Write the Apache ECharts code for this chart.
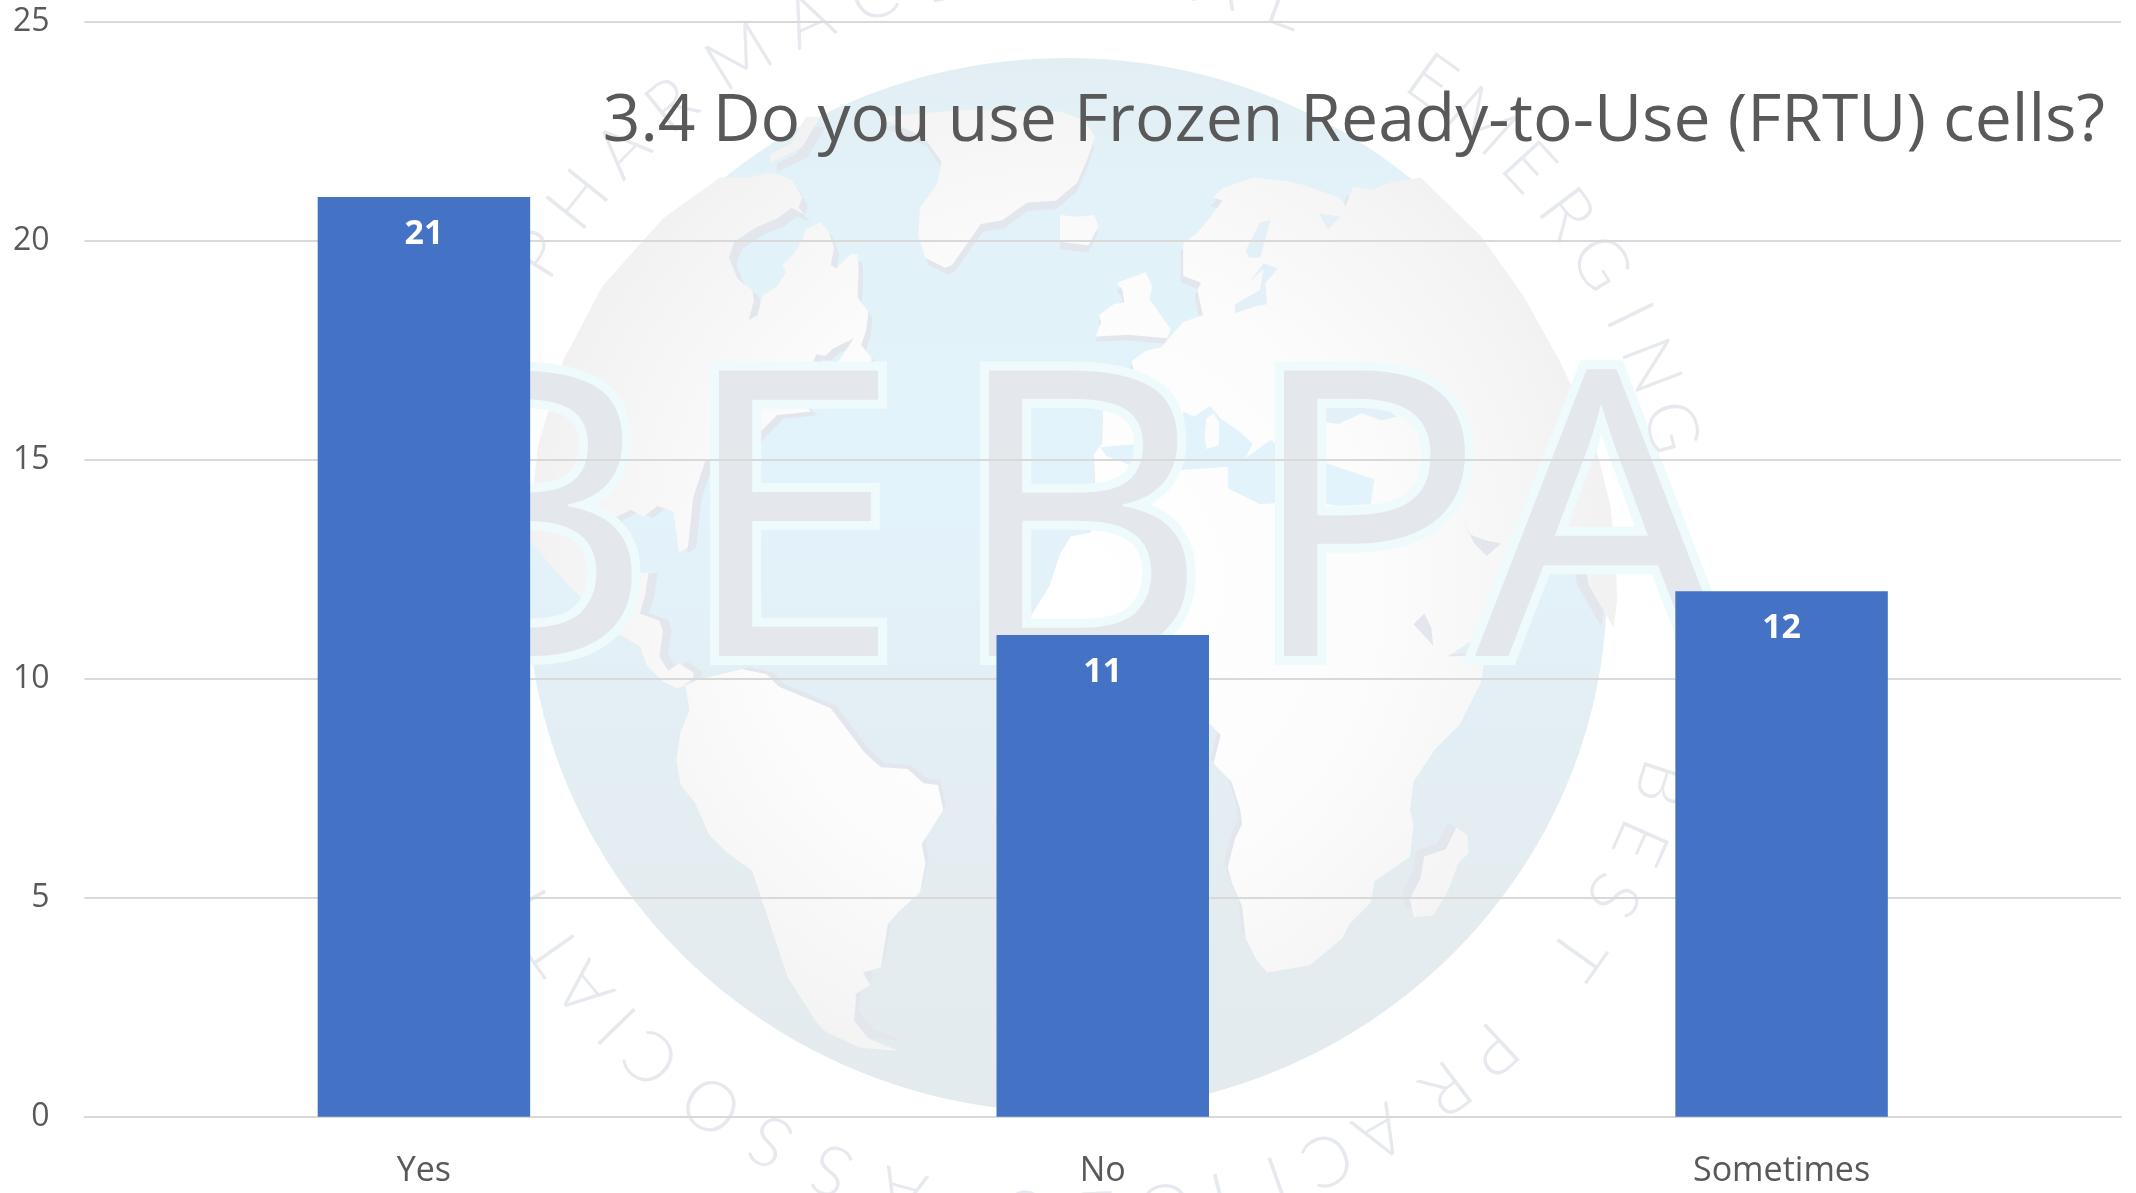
<!DOCTYPE html>
<html>
<head>
<meta charset="utf-8">
<style>
  html, body { margin: 0; background: #fff; }
  #chart { width: 2136px; height: 1193px; }
</style>
<script src="https://cdn.jsdelivr.net/npm/echarts@6/dist/echarts.min.js"></script>
</head>
<body>
<div id="chart"></div>
<script>
const titleText = "3.4 Do you use Frozen Ready-to-Use (FRTU) cells?";
const categories = ["Yes", "No", "Sometimes"];
const responses = [21, 11, 12];
const axisMin = 0;
const axisMax = 25;
const axisStep = 5;

// watermark: ring lettering as [letter, clockwise degrees from top]
const ringLetters = [
  ["P", -57.5], ["H", -51.4], ["A", -45.3], ["R", -39.2], ["M", -31.6], ["A", -24.4], ["C", -18], ["E", -11.5],
  ["U", -5.5], ["T", 0], ["I", 4], ["C", 8.5], ["A", 14], ["L", 20.5],
  ["E", 35.6], ["M", 41.5], ["E", 47.5], ["R", 53], ["G", 58.5], ["I", 64], ["N", 69], ["G", 74.9],
  ["B", 108], ["E", 113.8], ["S", 119.2], ["T", 125.5],
  ["P", 137.2], ["R", 142.8], ["A", 150], ["C", 155.4], ["T", 160.4], ["I", 165.8], ["C", 170.6], ["E", 177], ["S", 184],
  ["A", 195.3], ["S", 202.1], ["S", 208.3], ["O", 214.6], ["C", 221.6], ["I", 225.9], ["A", 230.4], ["T", 235],
  ["I", 240], ["O", 245], ["N", 251]
];
const logoLetters = [["B", 395], ["E", 680], ["B", 950], ["P", 1245], ["A", 1475]];

// watermark outlines, traced from 2.8x crops: [crop x, crop y, points]
const northAmerica = [
  [520, 40, [[52,1130],[120,900],[230,690],[400,500],[560,385],[640,385],[700,370],[760,390],[790,440],[780,470],[800,490],[760,470],[720,500],[660,525],[600,565],[585,610],[610,670],[650,700],[655,730],[640,785],[665,770],[680,715],[720,690],[745,650],[735,630],[770,595],[790,560],[800,530],[840,510],[860,530],[880,580],[870,630],[885,640],[925,600],[945,600],[948,640],[945,720],[975,760],[970,810],[955,855],[985,890],[980,925],[940,925],[885,910],[935,835],[905,850],[875,865],[855,885],[830,880],[815,915],[840,930],[860,925],[895,945],[850,975],[800,980],[790,1015],[815,1040],[770,1045],[720,1050],[680,1090],[640,1135],[600,1160],[520,1175],[485,1280],[470,1420],[445,1435],[430,1320],[385,1305],[345,1335],[310,1315],[260,1340],[240,1450]]],
  [520, 560, [[250,80],[275,95],[300,60],[310,40],[360,35],[350,100],[335,150],[390,170],[400,200],[390,270],[415,310],[445,290],[485,315],[485,335],[440,360],[400,340],[355,295],[335,240],[280,210],[235,165],[135,70],[20,-60]]]
];
const arcticIslands = [[520, 40, [[700,345],[790,300],[840,215],[800,215],[760,290],[700,320]]]];
const greenland = [[520, 40, [[1000,215],[1250,195],[1512,200],[1580,225],[1610,270],[1590,330],[1560,400],[1500,450],[1420,455],[1350,505],[1290,515],[1210,630],[1190,638],[1135,610],[1115,550],[1120,470],[1170,400],[1180,340],[1130,270]]]];
const iceland = [[1060, 40, [[0,490],[50,495],[95,490],[108,520],[80,575],[0,565]]]];
const britain = [[1060, 40, [[110,770],[150,740],[180,735],[175,700],[160,680],[240,650],[258,690],[250,725],[310,810],[300,835],[190,825],[100,830],[115,790]]]];
const southAmerica = [[520, 560, [[440,360],[460,335],[475,420],[450,480],[438,560],[450,630],[490,680],[530,770],[580,820],[650,870],[690,990],[720,1080],[750,1170],[805,1255],[830,1295],[855,1320],[950,1365],[1060,1375],[975,1340],[935,1290],[940,1240],[940,1215],[980,1190],[960,1155],[1010,1140],[1030,1020],[1060,985],[1120,930],[1135,850],[1125,795],[1185,700],[1170,630],[1130,625],[1085,585],[1010,580],[965,540],[870,415],[725,355],[690,320],[620,305],[500,335]]]];
const afroEurasia = [
  [1060, 40, [[345,600],[345,570],[385,540],[425,490],[455,450],[430,440],[455,415],[540,385],[630,395],[680,405],[780,440],[800,465],[820,410],[870,420],[925,400],[1010,385],[1180,550],[1300,720],[1400,900],[1470,1050],[1508,1170],[1540,1300],[1555,1420],[1560,1568]]],
  [1060, 560, [[1550,190],[1480,70],[1470,0]]],
  [1060, 40, [[1360,1430],[1270,1425],[1290,1480],[1330,1520]]],
  [1060, 560, [[1320,50],[1300,100],[1225,180],[1085,270],[1190,265],[1180,340],[1120,460],[1050,530],[990,620],[980,700],[990,740],[980,830],[880,900],[870,960],[810,1020],[790,1060],[700,1135],[580,1155],[550,1120],[520,1060],[510,970],[480,900],[470,860],[490,780],[510,740],[505,700],[480,620],[430,570],[450,490],[420,460],[300,500],[100,500],[-140,250]]],
  [1060, 40, [[-30,1530],[0,1440],[30,1390],[85,1380],[100,1290],[95,1160],[118,1130],[120,1040],[150,1015],[245,1025],[260,975],[210,940],[200,900],[240,870],[285,860],[305,835],[345,790],[400,770],[385,700],[395,680],[345,660]]]
];
const madagascar = [[1060, 560, [[1010,890],[1020,830],[1080,810],[1110,750],[1140,770],[1145,820],[1115,850],[1085,930],[1045,995],[990,1000],[980,950]]]];
const mediterranean = [[1060, 40, [[112,1140],[285,1125],[290,1100],[340,1075],[345,1040],[375,1055],[420,1025],[450,1060],[500,1095],[540,1130],[520,1170],[590,1120],[615,1140],[700,1170],[880,1230],[870,1300],[780,1305],[700,1290],[560,1300],[470,1255],[470,1195],[250,1210],[130,1165]]]];
const medIslands = [[[1060, 40, [[410,1060],[430,1045],[445,1070],[445,1135],[410,1145],[405,1110]]]], [[1060, 40, [[310,1115],[345,1108],[350,1125],[325,1140]]]]];
const seas = [
  [[1060, 40, [[745,1070],[745,1030],[775,950],[800,1005],[855,995],[945,1055],[900,1065],[845,1045],[780,1075]]]],
  [[1060, 40, [[490,765],[490,740],[560,700],[570,640],[530,680],[570,625],[610,640],[575,680],[580,740],[550,745]]]],
  [[1060, 40, [[520,590],[560,510],[590,505],[560,610],[530,610]]]],
  [[1060, 40, [[725,485],[785,495],[750,530]]]]
];
const gulfs = [
  [[1060, 40, [[1125,1340],[1150,1385],[1190,1400],[1235,1410],[1195,1445],[1160,1410]]]],
  [[1060, 560, [[1020,150],[1040,190],[1045,240],[990,180]]]]
];

const globeX = 1067;
const globeY = 585;
const ringX = 1067;
const ringY = 590;

function trace(parts) {
  let pts = [];
  parts.forEach(([ox, oy, list]) => {
    list.forEach(([x, y]) => pts.push([ox + x / 2.8, oy + y / 2.8]));
  });
  return pts;
}

const landFill = new echarts.graphic.RadialGradient(globeX, globeY, 560, [
  { offset: 0, color: "#ffffff" },
  { offset: 0.55, color: "#fcfcfc" },
  { offset: 0.85, color: "#f5f5f5" },
  { offset: 1, color: "#f1f1f1" }
], true);
const oceanFill = new echarts.graphic.LinearGradient(0, 0, 0, 1, [
  { offset: 0, color: "#e3eef3" },
  { offset: 0.12, color: "#e2f2f8" },
  { offset: 0.42, color: "#e3f3fb" },
  { offset: 0.6, color: "#e3eff5" },
  { offset: 0.8, color: "#e4ecf0" },
  { offset: 1, color: "#e4ebef" }
]);

function land(parts, fill) {
  let pts = trace(parts);
  // the raised edge sits on the side towards the globe centre
  let edge = pts.map(([x, y]) => [x + (globeX - x) * 0.022, y + (globeY - y) * 0.022]);
  return [
    { type: "polygon", z: -5, shape: { points: edge }, style: { fill: "#e3e7ed" }, silent: true },
    { type: "polygon", z: -5, shape: { points: pts }, style: { fill: fill || landFill }, silent: true }
  ];
}

function flat(parts, fill) {
  return { type: "polygon", z: -5, shape: { points: trace(parts) }, style: { fill: fill }, silent: true };
}

let watermark = [
  { type: "ellipse", z: -5, shape: { cx: globeX, cy: globeY, rx: 540, ry: 527 }, style: { fill: oceanFill }, silent: true }
];
[northAmerica, arcticIslands, greenland, iceland, britain, southAmerica, afroEurasia, madagascar].forEach((item) => {
  watermark = watermark.concat(land(item));
});
watermark.push(flat(mediterranean, "#e3f3fb"));
medIslands.forEach((item) => watermark.push(flat(item, "#fcfcfc")));
seas.forEach((item) => watermark.push(flat(item, "#e3f0f8")));
gulfs.forEach((item) => watermark.push(flat(item, "#e3e7ed")));

logoLetters.forEach(([ch, x]) => {
  watermark.push({
    type: "text", z: -4, x: x, y: 742, silent: true,
    style: {
      text: ch, fontFamily: "Open Sans", fontSize: 400, fill: "#e4e7ec",
      stroke: "#effafc", lineWidth: 18, align: "left", verticalAlign: "bottom",
      lineHeight: 400, textShadowBlur: 0
    }
  });
});

ringLetters.forEach(([ch, deg]) => {
  let a = (deg * Math.PI) / 180;
  watermark.push({
    type: "text", z: -4, silent: true,
    x: ringX + 625 * Math.sin(a),
    y: ringY - 625 * Math.cos(a),
    rotation: -a,
    style: { text: ch, fontFamily: "Lato", fontWeight: 300, fontSize: 70, fill: "#e6e9ee", align: "center", verticalAlign: "middle" }
  });
});

const chart = echarts.init(document.getElementById("chart"), null, { renderer: "canvas" });
chart.setOption({
  animation: false,
  backgroundColor: "#ffffff",
  title: {
    text: titleText,
    right: 31,
    top: 89,
    padding: 0,
    textStyle: { fontFamily: "Open Sans", fontSize: 66, fontWeight: 400, color: "#595959" }
  },
  grid: { left: 84.5, right: 15, top: 21.8, bottom: 76.2 },
  xAxis: {
    type: "category",
    data: categories,
    axisTick: { show: false },
    axisLine: { lineStyle: { color: "#d9d9d9", width: 2 } },
    axisLabel: { color: "#595959", fontFamily: "Open Sans", fontSize: 34, margin: 38 }
  },
  yAxis: {
    type: "value",
    min: axisMin,
    max: axisMax,
    interval: axisStep,
    axisLine: { show: false },
    axisTick: { show: false },
    axisLabel: { color: "#595959", fontFamily: "Open Sans", fontSize: 32, margin: 35 },
    splitLine: { lineStyle: { color: "#d9d9d9", width: 2 } }
  },
  graphic: watermark,
  series: [
    {
      type: "bar",
      data: responses,
      barWidth: "31.3%",
      itemStyle: { color: "#4472c4" },
      label: {
        show: true,
        position: "insideTop",
        distance: 20,
        color: "#ffffff",
        fontFamily: "Open Sans",
        fontWeight: 700,
        fontSize: 34
      }
    }
  ]
});
</script>
</body>
</html>
